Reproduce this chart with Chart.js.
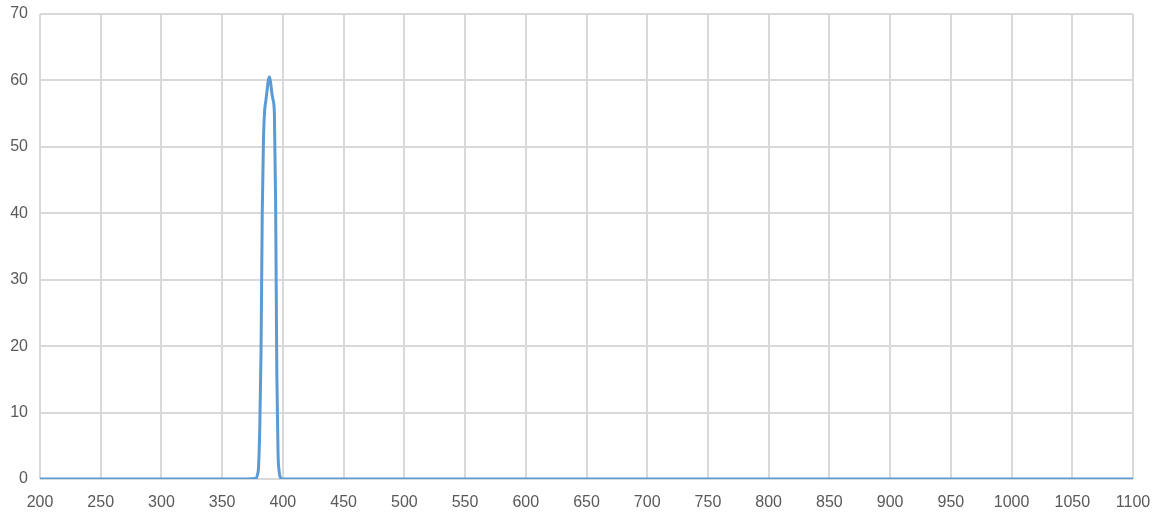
<!DOCTYPE html>
<html>
<head>
<meta charset="utf-8">
<script src="https://cdn.jsdelivr.net/npm/chart.js@4"></script>
<style>
  html, body { margin: 0; padding: 0; background: #fff; }
  #wrap { width: 1155px; height: 517px; }
</style>
</head>
<body>
<div id="wrap"><canvas id="myChart"></canvas></div>
<script>
// wavelength (nm) and transmission (%)
const wavelengths = [200, 370, 378, 379, 380, 381, 382, 383, 384, 385, 386, 387, 388, 389, 390, 391, 392, 393, 394, 395, 396, 397, 398, 400, 1100];
const transmission = [0, 0, 0.1, 0.6, 2, 8, 19, 40, 51, 55.5, 57, 58.5, 60, 60.5, 59.5, 58, 57, 55, 42, 16, 4, 1, 0.2, 0, 0];

const xTicks = [200, 250, 300, 350, 400, 450, 500, 550, 600, 650, 700, 750, 800, 850, 900, 950, 1000, 1050, 1100];
const yTicks = [0, 10, 20, 30, 40, 50, 60, 70];

const points = wavelengths.map((w, i) => ({ x: w, y: transmission[i] }));

const ctx = document.getElementById('myChart').getContext('2d');

let spectrumChart = new Chart(ctx, {
	type: 'line',
	data: {
		datasets: [{
			label: 'Transmission',
			data: points,
			borderColor: '#5B9BD5',
			borderWidth: 3,
			pointRadius: 0,
			cubicInterpolationMode: 'monotone',
			fill: false
		}]
	},
	options: {
		responsive: true,
		maintainAspectRatio: false,
		animation: false,
		layout: { padding: { top: 14, right: 22, left: 0, bottom: 0 } },
		plugins: {
			legend: { display: false },
			tooltip: { enabled: false }
		},
		scales: {
			x: {
				type: 'linear',
				min: 200,
				max: 1100,
				afterBuildTicks: axis => { axis.ticks = xTicks.map(v => ({ value: v })); },
				afterFit: axis => {
					axis.height = 38;
					axis.paddingLeft = 0;
					axis.paddingRight = 0;
				},
				grid: { color: '#d9d9d9', lineWidth: 2, drawTicks: false },
				border: { display: false },
				ticks: {
					color: '#595959',
					font: { family: 'Liberation Sans', size: 16 },
					padding: 14,
					maxRotation: 0,
					autoSkip: false,
					callback: v => String(v)
				}
			},
			y: {
				min: 0,
				max: 70,
				afterBuildTicks: axis => { axis.ticks = yTicks.map(v => ({ value: v })); },
				afterFit: axis => {
					axis.width = 40;
					axis.paddingTop = 0;
					axis.paddingBottom = 0;
				},
				grid: { color: '#d9d9d9', lineWidth: 2, drawTicks: false },
				border: { display: false },
				ticks: {
					color: '#595959',
					font: { family: 'Liberation Sans', size: 16 },
					padding: 12,
					callback: v => String(v)
				}
			}
		}
	}
});
</script>
</body>
</html>
